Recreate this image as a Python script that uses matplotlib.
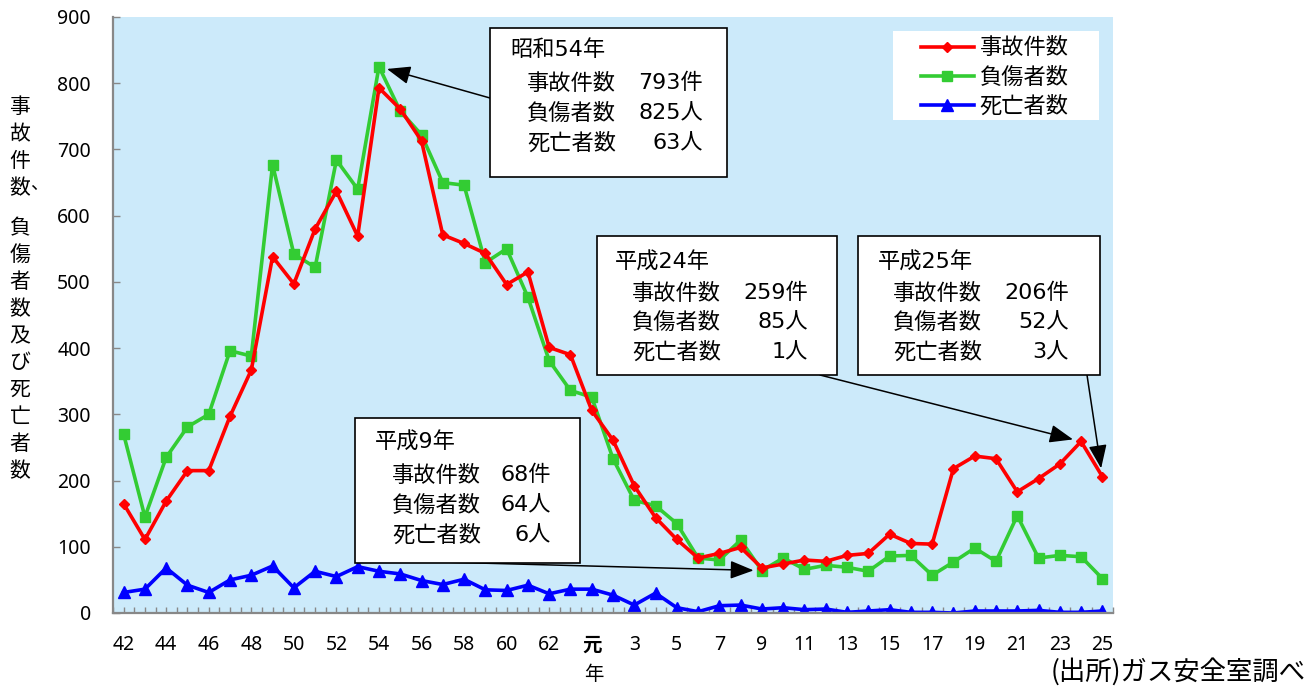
import matplotlib

matplotlib.use("Agg")
import matplotlib.pyplot as plt
from matplotlib.patches import Rectangle

W, H = 1311, 687
JP = ["Noto Sans CJK JP", "DejaVu Sans"]
NUM = ["Noto Sans", "DejaVu Sans"]
MIXED = ["DejaVu Sans", "Noto Sans CJK JP"]

# 昭和42年〜63年, 平成元年〜25年
SHOWA_YEARS = list(range(42, 64))
HEISEI_YEARS = list(range(1, 26))

accidents = [165, 111, 169, 215, 215, 297, 367, 538, 497, 580, 637, 569, 793, 761,
             713, 571, 558, 543, 496, 515, 401, 390,
             306, 261, 192, 144, 111, 83, 90, 99, 68, 74, 80, 78, 87, 90, 119, 105,
             104, 218, 237, 233, 183, 203, 225, 259, 206]
injured = [270, 145, 235, 281, 300, 396, 388, 677, 542, 522, 684, 640, 825, 758,
           722, 650, 646, 529, 550, 477, 381, 336,
           326, 233, 170, 162, 135, 83, 80, 110, 64, 83, 66, 72, 69, 63, 86, 87,
           57, 77, 98, 78, 147, 83, 87, 85, 52]
deaths = [31, 36, 68, 42, 31, 50, 57, 71, 38, 63, 55, 70, 63, 59, 49, 43, 51, 35,
          34, 42, 29, 36,
          36, 27, 12, 30, 8, 2, 11, 12, 6, 8, 5, 6, 1, 3, 5, 1, 1, 0, 3, 3, 3, 4,
          1, 1, 3]

series_names = ["事故件数", "負傷者数", "死亡者数"]
tick_labels = [str(y) for y in range(42, 63, 2)] + ["元"] + [str(y) for y in range(3, 26, 2)]
y_ticks = list(range(0, 901, 100))
y_label = "事故件数、負傷者数及び死亡者数"

# (era, year) picked out in the callout boxes
callout_years = [("昭和", 54), ("平成", 24), ("平成", 25), ("平成", 9)]


def year_index(era, year):
    if era == "昭和":
        return SHOWA_YEARS.index(year)
    return len(SHOWA_YEARS) + HEISEI_YEARS.index(year)


def fig_xy(x, y):
    return x / W, 1 - y / H


fig = plt.figure(figsize=(W / 100, H / 100), dpi=100)
ax = fig.add_axes([113 / W, 1 - 613 / H, 1000 / W, 596 / H])
ax.set_facecolor("#CCEAFA")

xs = list(range(len(accidents)))
ax.plot(xs, accidents, color="#FF0000", lw=2.6, marker="D", ms=5, label=series_names[0], zorder=3)
ax.plot(xs, injured, color="#33CC33", lw=2.6, marker="s", ms=7, label=series_names[1], zorder=2)
ax.plot(xs, deaths, color="#0000FF", lw=2.6, marker="^", ms=8, label=series_names[2], zorder=2)

ax.set_xlim(-0.5, len(xs) - 0.5)
ax.set_ylim(0, 900)
for side in ("top", "right"):
    ax.spines[side].set_visible(False)
for side in ("left", "bottom"):
    ax.spines[side].set_color("#888888")
    ax.spines[side].set_linewidth(1.6)

ax.set_xticks(range(0, len(xs), 2))
ax.set_xticklabels(tick_labels, family=NUM, fontsize=14)
ax.set_xticks([i / 2 - 0.5 for i in range(2 * len(xs) + 1)], minor=True)
ax.tick_params(axis="x", which="both", direction="in", length=4, width=1, color="#888888", pad=16)
ax.set_yticks(y_ticks)
ax.set_yticklabels([str(v) for v in y_ticks], family=NUM, fontsize=14)
ax.tick_params(axis="y", direction="in", length=5, width=1, color="#888888", pad=16)
for lbl in ax.get_xticklabels():
    if lbl.get_text() == "元":
        lbl.set_family(JP)
        lbl.set_fontweight("bold")

fig.text(*fig_xy(594, 675), "年", family=JP, fontsize=14, ha="center", va="center")
fig.text(*fig_xy(1306, 672), "(出所)ガス安全室調べ", family=JP, fontsize=19,
         ha="right", va="center")

# vertical y-axis title, one character per row
yy = 107
for ch in y_label:
    if ch == "、":
        fig.text(*fig_xy(39, yy - 31), ch, family=JP, fontsize=13, ha="center", va="center")
        yy += 13
        continue
    fig.text(*fig_xy(20, yy), ch, family=JP, fontsize=15, ha="center", va="center")
    yy += 27

# legend sits on a white panel of its own
lx0, ly0 = fig_xy(893, 120)
lx1, ly1 = fig_xy(1099, 31)
ax.add_artist(Rectangle((lx0, ly0), lx1 - lx0, ly1 - ly0, transform=fig.transFigure,
                        facecolor="white", edgecolor="none", zorder=4.5))
leg = ax.legend(loc="upper right", bbox_to_anchor=fig_xy(1073, 32), bbox_transform=fig.transFigure,
                prop={"family": JP, "size": 16}, frameon=False,
                handlelength=2.4, labelspacing=0.28, borderpad=0.2, handletextpad=0.25,
                borderaxespad=0)
leg.set_zorder(5)

# box: left, top, right, bottom; title x; label x; value right x; row ys; arrow start
box_layout = [
    ((490, 28, 727, 177), 510, 527, 703, (50, 83, 113, 143), (490, 98)),
    ((597, 236, 837, 375), 615, 632, 808, (262, 293, 322, 352), (820, 375)),
    ((858, 236, 1100, 375), 878, 893, 1069, (262, 293, 322, 352), (1087, 375)),
    ((355, 418, 580, 563), 375, 392, 551, (442, 475, 505, 535), (440, 562)),
]
arrow_target = [injured, accidents, accidents, injured]

for (era, year), layout, target in zip(callout_years, box_layout, arrow_target):
    (l, t, r, b), tx, lx, vx, rows, start = layout
    i = year_index(era, year)
    ax.annotate("", xy=(i, target[i]), xycoords="data", xytext=fig_xy(*start),
                textcoords="figure fraction",
                arrowprops=dict(arrowstyle="-|>,head_length=0.9,head_width=0.35", color="black",
                                lw=1.1, shrinkA=0, shrinkB=6, mutation_scale=16),
                zorder=4)
    x0, y0 = fig_xy(l, b)
    x1, y1 = fig_xy(r, t)
    fig.add_artist(Rectangle((x0, y0), x1 - x0, y1 - y0, transform=fig.transFigure,
                             facecolor="white", edgecolor="black", lw=1.2, zorder=5))
    fig.text(*fig_xy(tx, rows[0]), f"{era}{year}年", family=MIXED, fontsize=16,
             ha="left", va="center", zorder=6)
    values = [f"{accidents[i]}件", f"{injured[i]}人", f"{deaths[i]}人"]
    for name, val, ry in zip(series_names, values, rows[1:]):
        fig.text(*fig_xy(lx, ry), name, family=JP, fontsize=16, ha="left", va="center", zorder=6)
        fig.text(*fig_xy(vx, ry), val, family=MIXED, fontsize=16, ha="right", va="center", zorder=6)

fig.savefig("out.png", dpi=100)
